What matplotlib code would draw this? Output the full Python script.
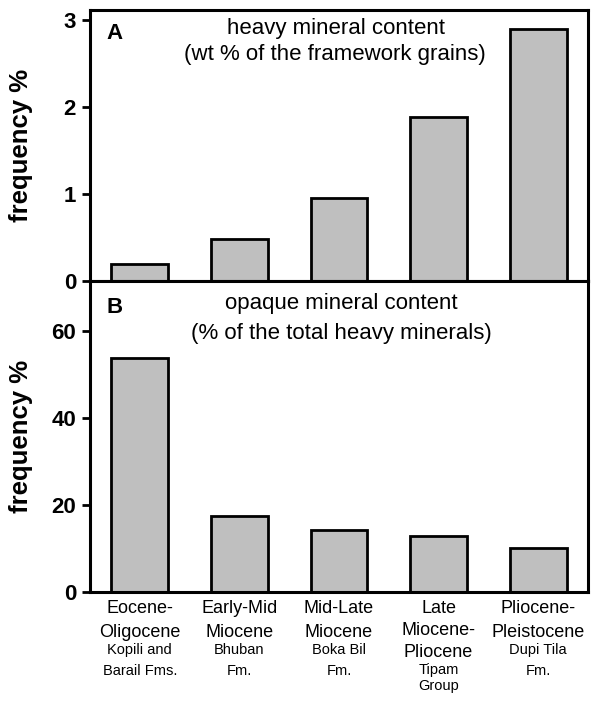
import matplotlib
matplotlib.use("Agg")
import matplotlib.pyplot as plt

plt.rcParams['font.family'] = ['Liberation Sans', 'DejaVu Sans']

periods = ["Eocene-\nOligocene", "Early-Mid\nMiocene", "Mid-Late\nMiocene",
           "Late\nMiocene-\nPliocene", "Pliocene-\nPleistocene"]
formations = ["Kopili and\nBarail Fms.", "Bhuban\nFm.", "Boka Bil\nFm.",
              "Tipam\nGroup", "Dupi Tila\nFm."]
heavy_content = [0.19, 0.48, 0.95, 1.89, 2.90]
opaque_content = [53.7, 17.5, 14.3, 12.9, 10.2]
heavy_ticks = [0, 1, 2, 3]
opaque_ticks = [0, 20, 40, 60]

W, H = 596, 701
fig = plt.figure(figsize=(W / 100, H / 100), dpi=100)

left, right = 90 / W, 588 / W
top_a, mid, bot_b = 1 - 10 / H, 1 - 281 / H, 1 - 592 / H
ax_a = fig.add_axes([left, mid, right - left, top_a - mid])
ax_b = fig.add_axes([left, bot_b, right - left, mid - bot_b])

bar_kw = dict(width=0.57, color='#bfbfbf', edgecolor='black', linewidth=2.0, zorder=2)
x = list(range(len(periods)))

ax_a.bar(x, heavy_content, **bar_kw)
ax_b.bar(x, opaque_content, **bar_kw)

ax_a.set_ylim(0, 3.12)
ax_b.set_ylim(0, 71.5)
ax_a.set_yticks(heavy_ticks)
ax_b.set_yticks(opaque_ticks)

for ax in (ax_a, ax_b):
    ax.set_xlim(-0.5, 4.5)
    for s in ax.spines.values():
        s.set_linewidth(2.2)
    ax.tick_params(axis='y', direction='out', length=6, width=2.0, pad=4,
                   labelsize=16)
    for lab in ax.get_yticklabels():
        lab.set_fontweight('bold')
    ax.set_ylabel('frequency %', fontsize=18.5, fontweight='bold')
    ax.yaxis.set_label_coords(-0.1145, 0.5)

ax_a.set_xticks([])
ax_b.set_xticks(x)
ax_b.set_xticklabels([])
ax_b.tick_params(axis='x', length=0)

# panel letters and titles
ax_a.text(0.05, 0.915, 'A', transform=ax_a.transAxes, fontsize=16,
          fontweight='bold', ha='center', va='center')
ax_b.text(0.05, 0.915, 'B', transform=ax_b.transAxes, fontsize=16,
          fontweight='bold', ha='center', va='center')

title_kw = dict(fontsize=16, ha='center', va='baseline')
ax_a.text(0.493, 0.911, 'heavy mineral content', transform=ax_a.transAxes, **title_kw)
ax_a.text(0.492, 0.815, '(wt % of the framework grains)', transform=ax_a.transAxes, **title_kw)
ax_b.text(0.505, 0.910, 'opaque mineral content', transform=ax_b.transAxes, **title_kw)
ax_b.text(0.505, 0.8135, '(% of the total heavy minerals)', transform=ax_b.transAxes, **title_kw)

# category labels: period on top, formation name below in smaller type;
# the three-line period label is set a little tighter
period_spacing = [1.48, 1.48, 1.48, 1.36, 1.48]
formation_spacing = [1.57, 1.57, 1.57, 1.15, 1.57]
for i, (p, f) in enumerate(zip(periods, formations)):
    per = ax_b.annotate(p, xy=(i, 0), xycoords=('data', 'axes fraction'),
                        xytext=(0, -6), textcoords='offset points',
                        ha='center', va='top', fontsize=13,
                        linespacing=period_spacing[i])
    ax_b.annotate(f, xy=(0.5, 0), xycoords=per, xytext=(0, -2),
                  textcoords='offset points', ha='center', va='top',
                  fontsize=10.5, linespacing=formation_spacing[i])

fig.savefig('out.png', dpi=100)
